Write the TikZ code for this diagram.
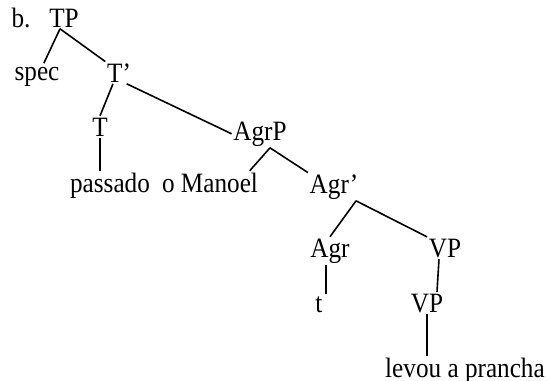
\documentclass[tikz,border=0pt]{standalone}
\usepackage{fontspec}
\setmainfont{Liberation Serif}[FakeStretch=0.9]
\usepackage{tikz}
\usetikzlibrary{positioning}
\tikzstyle{treenode} = [anchor=base, inner sep=0.7pt, font=\fontsize{14}{16}\selectfont]
\tikzstyle{branch} = [line width=0.8pt, draw=black]

\begin{document}
\begin{tikzpicture}[x=0.5pt, y=-0.5pt]
 \useasboundingbox (0,0) rectangle (548,381);

 \node (ex) [treenode] at (21,27) {b.};
 \node (TP) [treenode] at (64,27) {TP};
 \node (spec) [treenode] at (37,80) {spec};
 \node (Tbar) [treenode] at (119,82) {T'};
 \node (T) [treenode] at (100,136) {T};
 \node (passado) [treenode] at (110,192) {passado};
 \node (AgrP) [treenode] at (260,140) {AgrP};
 \node (manoel) [treenode] at (210,192) {o Manoel};
 \node (Agrbar) [treenode] at (334,193) {Agr'};
 \node (Agr) [treenode] at (330,257) {Agr};
 \node (VPup) [treenode] at (445,257) {VP};
 \node (trace) [treenode] at (319,312) {t};
 \node (VPlow) [treenode] at (427,312) {VP};
 \node (levou) [treenode] at (465,377) {levou a prancha};

 \draw [branch, shorten >=1pt] ([xshift=-2pt]TP.south) -- ([xshift=3pt]spec.north);
 \draw [branch] ([xshift=-2pt]TP.south) -- (Tbar.north west);
 \draw [branch] ([xshift=-3pt]Tbar.south) -- (T.north);
 \draw [branch] ([xshift=-3pt]Tbar.south east) -- (AgrP.west);
 \draw [branch] (T.south) -- (T.south |- passado.north);
 \draw [branch] ([xshift=5pt]AgrP.south) -- ([xshift=-5pt]manoel.north east);
 \draw [branch] ([xshift=5pt]AgrP.south) -- (Agrbar.north west);
 \draw [branch] ([xshift=-2pt]Agrbar.south east) -- (Agr.north);
 \draw [branch] ([xshift=-2pt]Agrbar.south east) -- (VPup.north west);
 \draw [branch] ([xshift=-2pt]Agr.south) -- ([xshift=-2pt]Agr.south |- trace.north);
 \draw [branch] ([xshift=-3pt]VPup.south) -- ([xshift=5pt]VPlow.north);
 \draw [branch] (VPlow.south) -- (VPlow.south |- levou.north);
\end{tikzpicture}
\end{document}
